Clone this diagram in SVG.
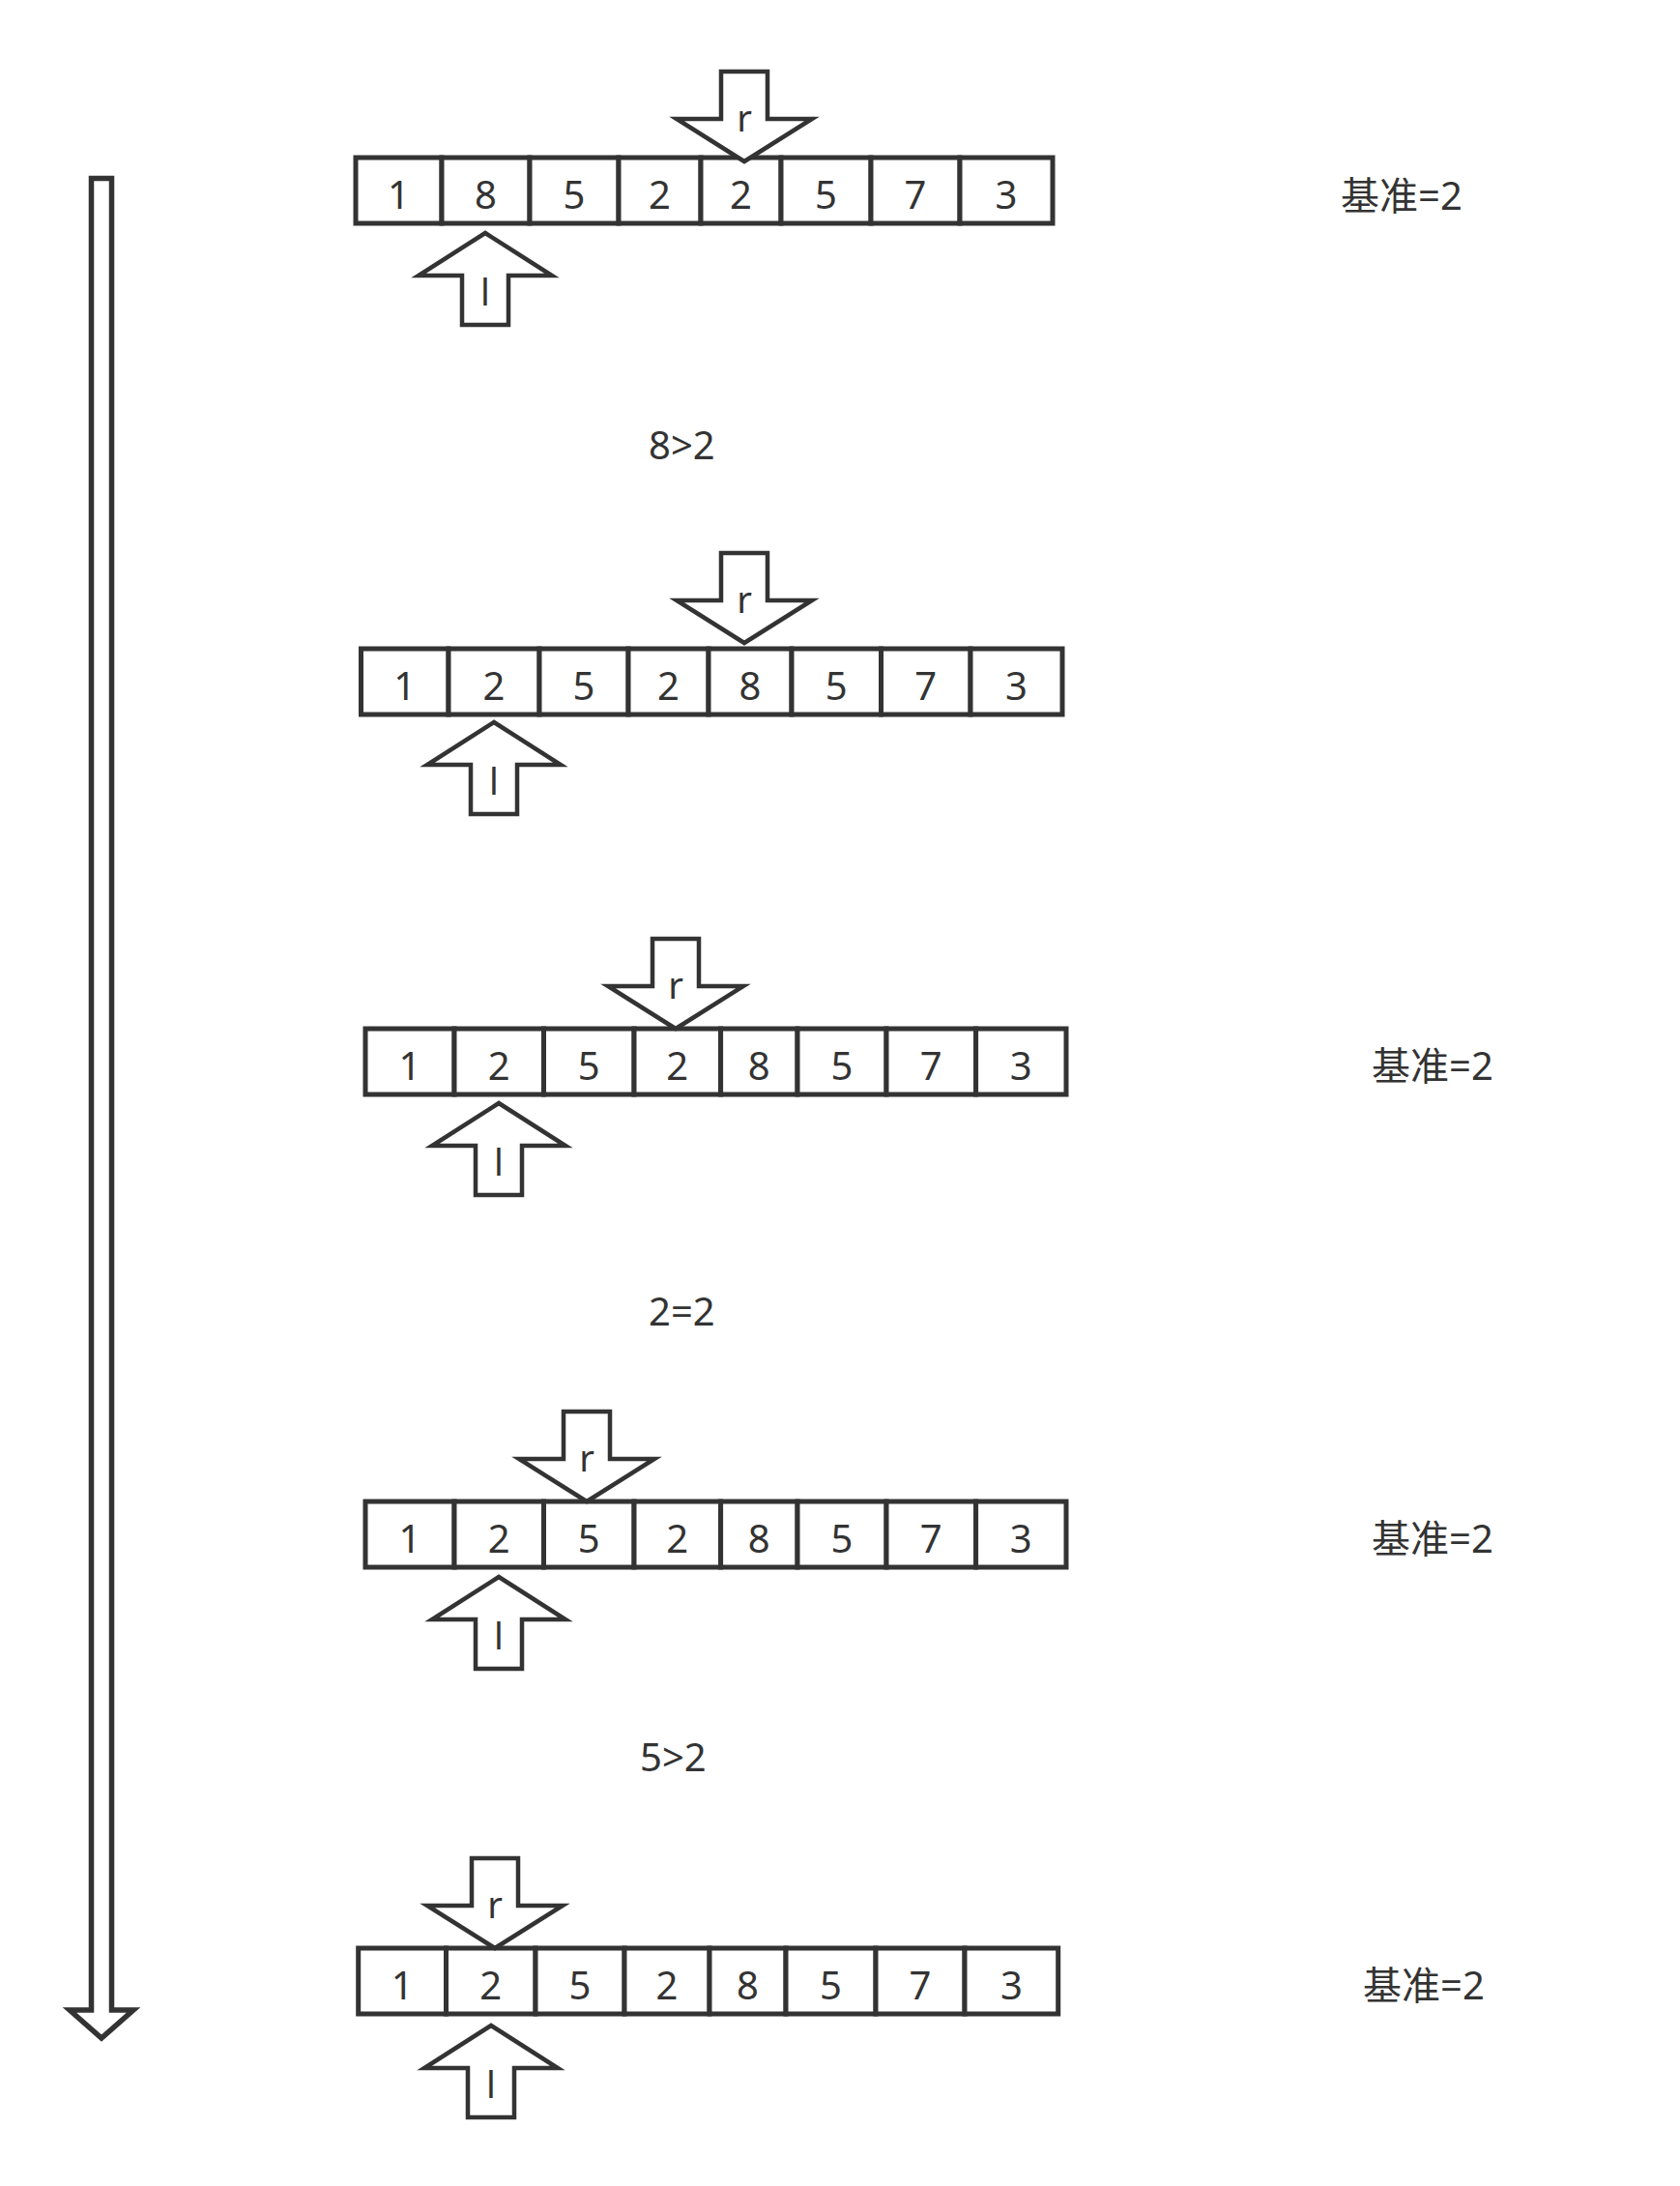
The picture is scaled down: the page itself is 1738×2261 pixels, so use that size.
<svg xmlns="http://www.w3.org/2000/svg" xmlns:xlink="http://www.w3.org/1999/xlink" width="1738" height="2261" viewBox="0 0 1738 2261">
<style>
  .cell { fill: #ffffff; stroke: #333333; stroke-width: 5; }
  .ptr { fill: #ffffff; stroke: #333333; stroke-width: 4.5; stroke-linejoin: miter; }
  .big { fill: #ffffff; stroke: #333333; stroke-width: 5.5; stroke-linejoin: miter; }
  text { font-family: "Noto Sans", "Noto Sans CJK SC", sans-serif; fill: #333333; }
  .num { font-size: 40px; text-anchor: middle; }
  .lbl { font-size: 38px; text-anchor: middle; }
  .note { font-size: 40px; }
</style>
<defs>
  <path id="down" d="M -24,-93 H 24 V -44 H 70 L 0,0 L -70,-44 H -24 Z"/>
  <path id="up" d="M 0,0 L 69,44 H 24 V 95 H -24 V 44 H -69 Z"/>
</defs>

<g id="connectors">
  <path id="timeline" class="big" d="M 94.5,184.5 H 115.5 V 2079 H 138 L 105,2108 L 72,2079 H 94.5 Z"/>
</g>

<g id="row1">
  <rect class="cell" x="368" y="163" width="89" height="68"/>
  <rect class="cell" x="457" y="163" width="91" height="68"/>
  <rect class="cell" x="548" y="163" width="92" height="68"/>
  <rect class="cell" x="640" y="163" width="85" height="68"/>
  <rect class="cell" x="725" y="163" width="83" height="68"/>
  <rect class="cell" x="808" y="163" width="93" height="68"/>
  <rect class="cell" x="901" y="163" width="92" height="68"/>
  <rect class="cell" x="993" y="163" width="96" height="68"/>
  <text class="num" x="412.5" y="216">1</text>
  <text class="num" x="502.5" y="216">8</text>
  <text class="num" x="594" y="216">5</text>
  <text class="num" x="682.5" y="216">2</text>
  <text class="num" x="766.5" y="216">2</text>
  <text class="num" x="854.5" y="216">5</text>
  <text class="num" x="947" y="216">7</text>
  <text class="num" x="1041" y="216">3</text>
</g>
<g id="row1-r"><use href="#down" class="ptr" x="770" y="167"/><text class="lbl" x="770" y="136">r</text></g>
<g id="row1-l"><use href="#up" class="ptr" x="502" y="241"/><text class="lbl" x="502" y="316">l</text></g>
<g id="note1"><text class="note" x="1387" y="217">基准=2</text></g>
<g id="cmp1"><text class="note" x="671" y="475">8&gt;2</text></g>

<g id="row2">
  <rect class="cell" x="373.5" y="671" width="90.5" height="68"/>
  <rect class="cell" x="464" y="671" width="94" height="68"/>
  <rect class="cell" x="558" y="671" width="92" height="68"/>
  <rect class="cell" x="650" y="671" width="83" height="68"/>
  <rect class="cell" x="733" y="671" width="86" height="68"/>
  <rect class="cell" x="819" y="671" width="92.5" height="68"/>
  <rect class="cell" x="911.5" y="671" width="92.5" height="68"/>
  <rect class="cell" x="1004" y="671" width="95" height="68"/>
  <text class="num" x="418.75" y="724">1</text>
  <text class="num" x="511" y="724">2</text>
  <text class="num" x="604" y="724">5</text>
  <text class="num" x="691.5" y="724">2</text>
  <text class="num" x="776" y="724">8</text>
  <text class="num" x="865.25" y="724">5</text>
  <text class="num" x="957.75" y="724">7</text>
  <text class="num" x="1051.5" y="724">3</text>
</g>
<g id="row2-r"><use href="#down" class="ptr" x="770" y="665"/><text class="lbl" x="770" y="634">r</text></g>
<g id="row2-l"><use href="#up" class="ptr" x="511" y="747"/><text class="lbl" x="511" y="822">l</text></g>

<g id="row3">
  <rect class="cell" x="378" y="1064" width="92" height="68"/>
  <rect class="cell" x="470" y="1064" width="92.5" height="68"/>
  <rect class="cell" x="562.5" y="1064" width="93.5" height="68"/>
  <rect class="cell" x="656" y="1064" width="89.6" height="68"/>
  <rect class="cell" x="745.6" y="1064" width="79.4" height="68"/>
  <rect class="cell" x="825" y="1064" width="92" height="68"/>
  <rect class="cell" x="917" y="1064" width="92.6" height="68"/>
  <rect class="cell" x="1009.6" y="1064" width="93.4" height="68"/>
  <text class="num" x="424" y="1117">1</text>
  <text class="num" x="516.25" y="1117">2</text>
  <text class="num" x="609.25" y="1117">5</text>
  <text class="num" x="700.8" y="1117">2</text>
  <text class="num" x="785.3" y="1117">8</text>
  <text class="num" x="871" y="1117">5</text>
  <text class="num" x="963.3" y="1117">7</text>
  <text class="num" x="1056.3" y="1117">3</text>
</g>
<g id="row3-r"><use href="#down" class="ptr" x="699" y="1064"/><text class="lbl" x="699" y="1033">r</text></g>
<g id="row3-l"><use href="#up" class="ptr" x="516" y="1141"/><text class="lbl" x="516" y="1216">l</text></g>
<g id="note3"><text class="note" x="1419" y="1117">基准=2</text></g>
<g id="cmp2"><text class="note" x="671" y="1371">2=2</text></g>

<g id="row4">
  <rect class="cell" x="378" y="1553" width="92" height="68"/>
  <rect class="cell" x="470" y="1553" width="92.5" height="68"/>
  <rect class="cell" x="562.5" y="1553" width="93.5" height="68"/>
  <rect class="cell" x="656" y="1553" width="89.6" height="68"/>
  <rect class="cell" x="745.6" y="1553" width="79.4" height="68"/>
  <rect class="cell" x="825" y="1553" width="92" height="68"/>
  <rect class="cell" x="917" y="1553" width="92.6" height="68"/>
  <rect class="cell" x="1009.6" y="1553" width="93.4" height="68"/>
  <text class="num" x="424" y="1606">1</text>
  <text class="num" x="516.25" y="1606">2</text>
  <text class="num" x="609.25" y="1606">5</text>
  <text class="num" x="700.8" y="1606">2</text>
  <text class="num" x="785.3" y="1606">8</text>
  <text class="num" x="871" y="1606">5</text>
  <text class="num" x="963.3" y="1606">7</text>
  <text class="num" x="1056.3" y="1606">3</text>
</g>
<g id="row4-r"><use href="#down" class="ptr" x="607" y="1553"/><text class="lbl" x="607" y="1522">r</text></g>
<g id="row4-l"><use href="#up" class="ptr" x="516" y="1631"/><text class="lbl" x="516" y="1706">l</text></g>
<g id="note4"><text class="note" x="1419" y="1606">基准=2</text></g>
<g id="cmp3"><text class="note" x="662" y="1832">5&gt;2</text></g>

<g id="row5">
  <rect class="cell" x="370.7" y="2015" width="90.8" height="68"/>
  <rect class="cell" x="461.5" y="2015" width="92.5" height="68"/>
  <rect class="cell" x="554" y="2015" width="92" height="68"/>
  <rect class="cell" x="646" y="2015" width="88" height="68"/>
  <rect class="cell" x="734" y="2015" width="79" height="68"/>
  <rect class="cell" x="813" y="2015" width="93" height="68"/>
  <rect class="cell" x="906" y="2015" width="92" height="68"/>
  <rect class="cell" x="998" y="2015" width="96.7" height="68"/>
  <text class="num" x="416.1" y="2068">1</text>
  <text class="num" x="507.75" y="2068">2</text>
  <text class="num" x="600" y="2068">5</text>
  <text class="num" x="690" y="2068">2</text>
  <text class="num" x="773.5" y="2068">8</text>
  <text class="num" x="859.5" y="2068">5</text>
  <text class="num" x="952" y="2068">7</text>
  <text class="num" x="1046.35" y="2068">3</text>
</g>
<g id="row5-r"><use href="#down" class="ptr" x="512" y="2015"/><text class="lbl" x="512" y="1984">r</text></g>
<g id="row5-l"><use href="#up" class="ptr" x="508" y="2095"/><text class="lbl" x="508" y="2170">l</text></g>
<g id="note5"><text class="note" x="1410" y="2068">基准=2</text></g>
</svg>
